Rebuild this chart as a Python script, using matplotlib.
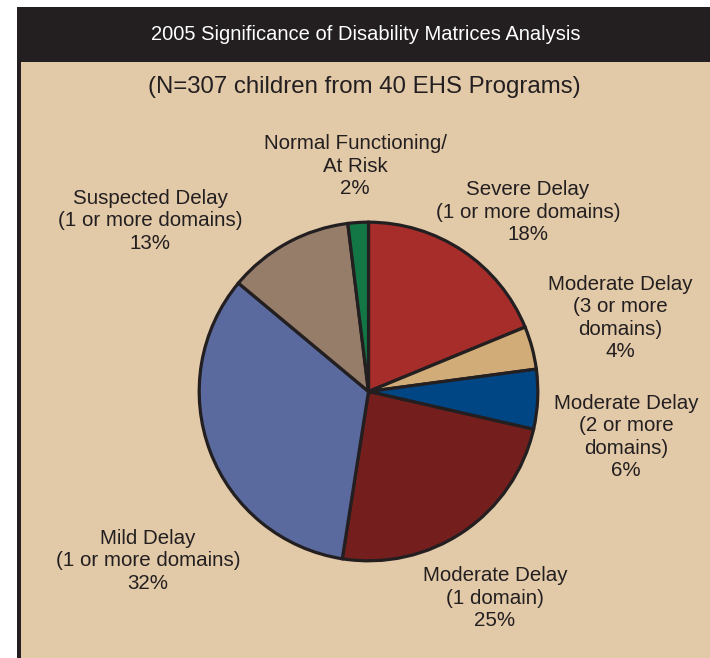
#!/usr/bin/env python3
"""2005 Significance of Disability Matrices Analysis - pie chart"""

import matplotlib
matplotlib.use("Agg")
import matplotlib.pyplot as plt
from matplotlib.patches import Rectangle
from matplotlib import font_manager

# data
categories = [
    "Severe Delay\n(1 or more domains)",
    "Moderate Delay\n(3 or more\ndomains)",
    "Moderate Delay\n(2 or more\ndomains)",
    "Moderate Delay\n(1 domain)",
    "Mild Delay\n(1 or more domains)",
    "Suspected Delay\n(1 or more domains)",
    "Normal Functioning/\nAt Risk",
]
percents = [18, 4, 6, 25, 32, 13, 2]
# wedge sizes as drawn in the picture (slightly off the printed percents)
wedge_shares = [18.8, 4.1, 5.7, 23.9, 33.6, 12.0, 1.95]
colors = ["#A72D2B", "#D2AC78", "#004685", "#741E1E", "#5A699E", "#957D6A", "#137745"]

title = "2005 Significance of Disability Matrices Analysis"
subtitle = "(N=307 children from 40 EHS Programs)"

BG = "#E2C9A8"
DARK = "#231F20"

W, H = 710, 658
names = {f.name for f in font_manager.fontManager.ttflist}
narrow = "Liberation Sans Narrow" if "Liberation Sans Narrow" in names else "Liberation Sans"

fig = plt.figure(figsize=(W / 100, H / 100), dpi=100)
fig.patch.set_facecolor("white")


def fx(px):
    return px / W


def fy(py):
    return 1 - py / H


# panel + title bar
fig.patches.append(Rectangle((fx(17), 0), fx(W - 17), fy(7), transform=fig.transFigure,
                             facecolor=DARK, edgecolor="none", zorder=-2))
fig.patches.append(Rectangle((fx(21), 0), fx(W - 21), fy(62), transform=fig.transFigure,
                             facecolor=BG, edgecolor="none", zorder=-1))
fig.text(fx(366), fy(34), title, color="white", fontsize=14.5, family=narrow,
         ha="center", va="center")
fig.text(fx(364), fy(87), subtitle, color=DARK, fontsize=17.3, family=narrow,
         ha="center", va="center")

# pie
cx, cy, r = 368.5, 391.5, 171
ax = fig.add_axes([fx(cx - r), fy(cy + r), fx(2 * r), (2 * r) / H], zorder=2)
ax.pie(wedge_shares, colors=colors, startangle=90, counterclock=False, radius=1,
       wedgeprops=dict(edgecolor=DARK, linewidth=2.3))
ax.set_xlim(-1.01, 1.01)
ax.set_ylim(-1.01, 1.01)
ax.set_aspect("equal")
ax.axis("off")

# labels
label_pos = [(528, 212), (620, 318), (626, 437), (495, 598), (148, 561), (150, 221), (355, 166)]
for name, pct, (lx, ly) in zip(categories, percents, label_pos):
    fig.text(fx(lx), fy(ly), f"{name}\n{pct}%", color=DARK, fontsize=14.8,
             family="Liberation Sans", ha="center", va="center", linespacing=1.22)

fig.savefig("out.png", dpi=100, facecolor=fig.get_facecolor())
